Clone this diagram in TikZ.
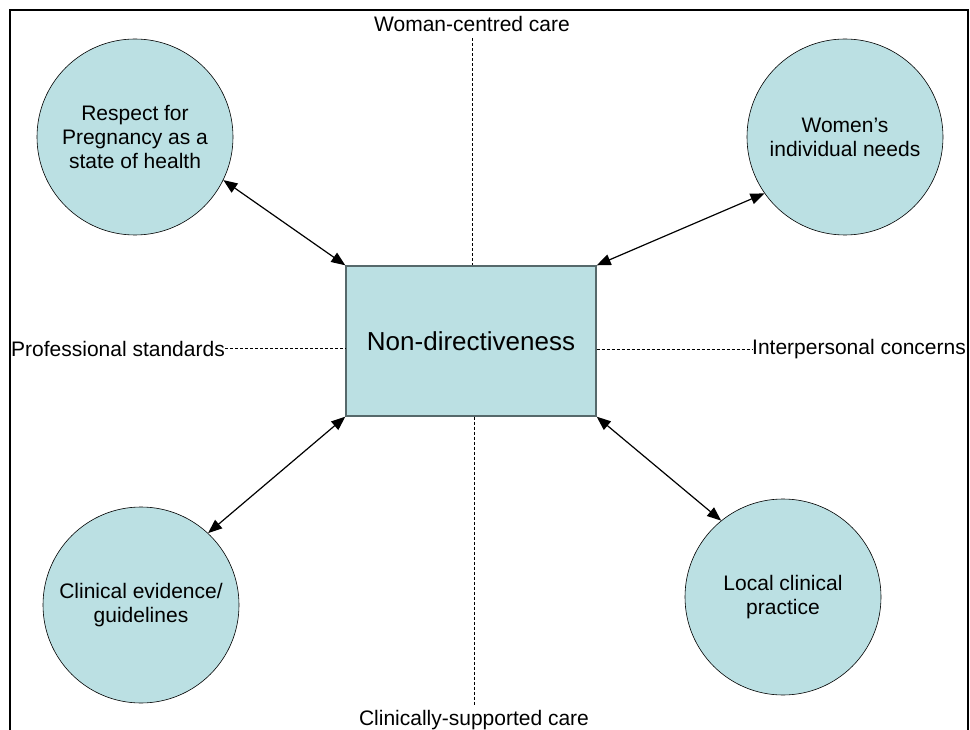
\documentclass[tikz,border=0pt]{standalone}
\usepackage{fontspec}
\setmainfont{Liberation Sans}
\usetikzlibrary{arrows.meta}
\definecolor{pptfill}{HTML}{BBE0E3}
\definecolor{boxline}{HTML}{56696B}

\begin{document}
\begin{tikzpicture}[x=1pt,y=-1pt,
  bubble/.style={circle,draw,line width=0.6pt,fill=pptfill,minimum size=196pt,inner sep=0pt,align=center,font=\fontsize{21}{24}\selectfont},
  centrebox/.style={rectangle,draw=boxline,line width=1.4pt,fill=pptfill,minimum width=250pt,minimum height=150pt,font=\fontsize{26}{30}\selectfont},
  axislabel/.style={inner sep=0pt,font=\fontsize{21}{24}\selectfont},
  axis/.style={dash pattern=on 3pt off 2pt,line width=0.6pt},
  link/.style={{Triangle[length=14pt,width=11pt]}-{Triangle[length=14pt,width=11pt]},line width=1.2pt}]
\useasboundingbox (0,0) rectangle (970,730);
%\draw [help lines,step=50] (0,0) grid (970,730);
\draw [line width=2pt] (10,730)--(10,10)--(968,10)--(968,730);
% centre box
\node [centrebox] (nondir) at (471,341) {Non-directiveness};
% the four circles
\node [bubble] (respect) at (135,137) {Respect for\\Pregnancy as a\\state of health};
\node [bubble] (needs) at (845,137) {Women’s\\individual needs};
\node [bubble] (evidence) at (141,605) {Clinical evidence/\\guidelines};
\node [bubble] (practice) at (783,597) {Local clinical\\practice};
% axis labels
\node [axislabel,anchor=base] (woman) at (472,32) {Woman-centred care};
\node [axislabel,anchor=base] (clinical) at (474,725) {Clinically-supported care};
\node [axislabel,anchor=base west] (prof) at (11,356) {Professional standards};
\node [axislabel,anchor=base west] (inter) at (752,355) {Interpersonal concerns};
\draw [axis] ([yshift=-6pt]woman.south) -- (woman.south |- nondir.north);
\draw [axis] (clinical.north |- nondir.south) -- ([yshift=4pt]clinical.north);
\draw [axis] (prof.east) -- (prof.east -| nondir.west);
\draw [axis] (nondir.east |- inter.west) -- (inter.west);
% arrows
\draw [link] (respect.-26) -- (nondir.north west);
\draw [link] (needs.215) -- (nondir.north east);
\draw [link] (evidence.47) -- (nondir.south west);
\draw [link] (practice.129) -- (nondir.south east);
\end{tikzpicture}
\end{document}
